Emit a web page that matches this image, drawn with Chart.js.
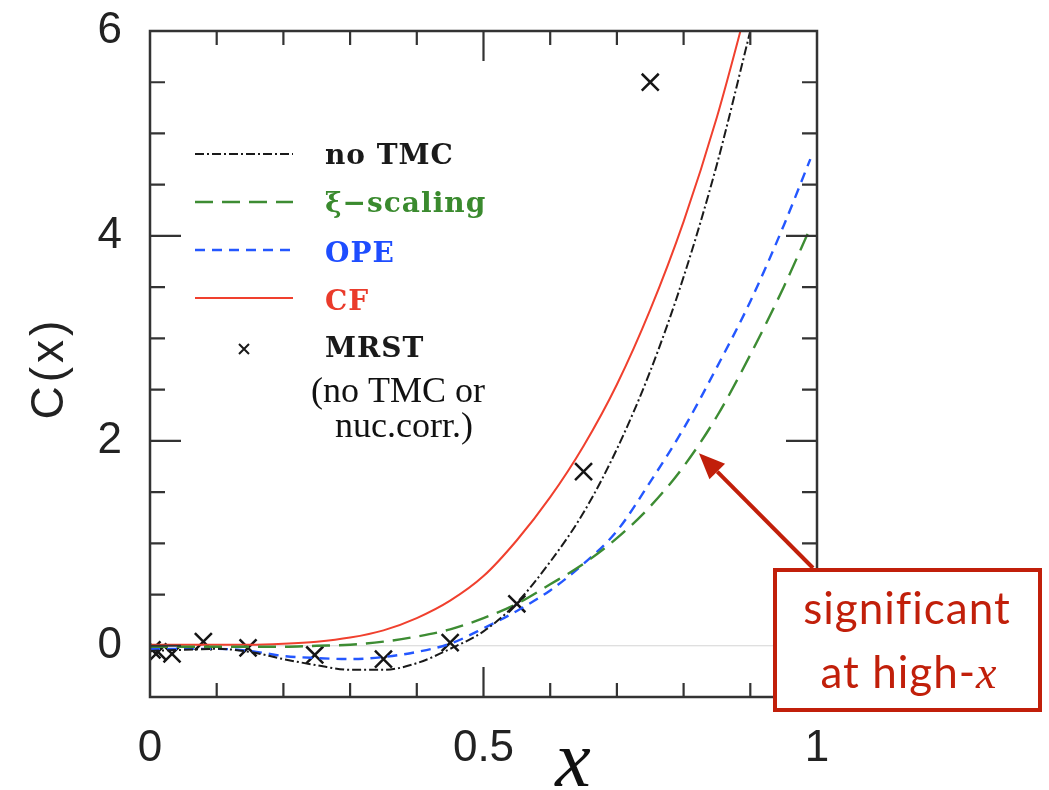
<!DOCTYPE html>
<html><head><meta charset="utf-8">
<script src="https://cdn.jsdelivr.net/npm/chart.js@4.4.1/dist/chart.umd.min.js"></script>
<style>html,body{margin:0;padding:0;background:#fff;} canvas{display:block;}</style>
</head><body>
<canvas id="c" width="1049" height="790" style="width:1049px;height:790px"></canvas>
<script>
// ---- data ----
const xValues   = [0, 0.05, 0.1, 0.15, 0.2, 0.25, 0.3, 0.35, 0.4, 0.45, 0.5, 0.55, 0.6, 0.65, 0.7, 0.75, 0.8, 0.85, 0.9, 0.95, 0.99];
const noTMC     = [-0.05, -0.04, -0.03, -0.06, -0.13, -0.19, -0.235, -0.235, -0.17, -0.03, 0.14, 0.42, 0.82, 1.3, 1.92, 2.68, 3.6, 4.7, 6.0, null, null];
const xiScaling = [-0.01, -0.01, -0.01, -0.01, -0.01, 0.0, 0.01, 0.04, 0.09, 0.16, 0.27, 0.41, 0.6, 0.8, 1.05, 1.36, 1.75, 2.24, 2.84, 3.5, 4.08];
const ope       = [-0.03, -0.03, -0.03, -0.05, -0.1, -0.12, -0.13, -0.11, -0.06, 0.02, 0.17, 0.34, 0.54, 0.8, 1.12, 1.6, 2.12, 2.72, 3.36, 4.1, 4.75];
const cf        = [0.01, 0.01, 0.01, 0.01, 0.02, 0.04, 0.08, 0.15, 0.27, 0.44, 0.68, 1.03, 1.45, 1.95, 2.55, 3.28, 4.14, 5.16, 6.36, null, null];
const mrstX     = [0.003, 0.012, 0.033, 0.08, 0.147, 0.247, 0.35, 0.45, 0.55, 0.65, 0.75];
const mrstY     = [-0.04, -0.06, -0.08, 0.04, -0.02, -0.09, -0.13, 0.03, 0.41, 1.70, 5.50];
const xTicks = [0, 0.5, 1];
const xTickLabels = ['0', '0.5', '1'];
const yTicks = [0, 2, 4, 6];
const yTickLabels = ['0', '2', '4', '6'];
const legendLabels = ['no TMC', '\u03BE\u2212scaling', 'OPE', 'CF', 'MRST'];
const noteLines = ['(no TMC or', 'nuc.corr.)'];
const annotation = ['significant', 'at high-', 'x'];
const arrowTarget = [0.823, 1.88];

const COL = {black:'#1a1a1a', green:'#3d8c33', blue:'#2457ff', red:'#f0402e', dark:'#c11f0a'};

const pts = arr => xValues.map((x,i)=>({x, y: arr[i]}));

const overlay = {
  id: 'overlay',
  beforeDatasetsDraw(chart) {
    const {ctx, chartArea:a, scales:{x, y}} = chart;
    ctx.save();
    ctx.strokeStyle = '#d4d4d4'; ctx.lineWidth = 1.2;
    const y0 = y.getPixelForValue(0);
    ctx.beginPath(); ctx.moveTo(a.left, y0); ctx.lineTo(a.right, y0); ctx.stroke();
    ctx.restore();
  },
  afterDatasetsDraw(chart) {
    const {ctx, chartArea:a, scales:{x, y}} = chart;
    ctx.save();
    // frame
    ctx.strokeStyle = '#333'; ctx.lineWidth = 2.5;
    ctx.strokeRect(a.left, a.top, a.right - a.left, a.bottom - a.top);
    // ticks
    ctx.lineWidth = 2.2;
    ctx.beginPath();
    for (let i = 1; i < 10; i++) {
      const v = i / 10, px = x.getPixelForValue(v), L = (i === 5) ? 30 : 14;
      ctx.moveTo(px, a.bottom); ctx.lineTo(px, a.bottom - L);
      ctx.moveTo(px, a.top); ctx.lineTo(px, a.top + L);
    }
    for (let i = 0; i < 13; i++) {
      const v = -0.5 + i * 0.5;
      if (v <= -0.5 || v >= 6) continue;
      const py = y.getPixelForValue(v), L = (v % 2 === 0) ? 31 : 15;
      ctx.moveTo(a.left, py); ctx.lineTo(a.left + L, py);
      ctx.moveTo(a.right, py); ctx.lineTo(a.right - L, py);
    }
    ctx.stroke();

    // legend
    const rows = [154, 202, 250, 298];
    const styles = [
      {c: COL.black, d: [9, 3, 2, 3], w: 2},
      {c: COL.green, d: [18, 9], w: 2.4},
      {c: COL.blue, d: [10, 7], w: 2.4},
      {c: COL.red, d: [], w: 2}
    ];
    const tcol = ['#1a1a1a', '#3a8a2e', '#1e4dff', '#ea3b2b', '#1a1a1a'];
    styles.forEach((s, i) => {
      ctx.strokeStyle = s.c; ctx.lineWidth = s.w; ctx.setLineDash(s.d);
      ctx.beginPath(); ctx.moveTo(195, rows[i]); ctx.lineTo(293, rows[i]); ctx.stroke();
    });
    ctx.setLineDash([]);
    // MRST legend cross
    ctx.strokeStyle = '#1a1a1a'; ctx.lineWidth = 2;
    ctx.beginPath();
    ctx.moveTo(239, 344); ctx.lineTo(249, 354); ctx.moveTo(249, 344); ctx.lineTo(239, 354);
    ctx.stroke();
    ctx.font = 'bold 28px "DejaVu Serif"';
    ctx.textBaseline = 'middle'; ctx.textAlign = 'left';
    ctx.letterSpacing = '1px';
    const trow = [157, 205, 255, 303, 350];
    legendLabels.forEach((t, i) => { ctx.fillStyle = tcol[i]; ctx.fillText(t, 325, trow[i]); });
    ctx.letterSpacing = '0px';

    // note
    ctx.fillStyle = '#111'; ctx.font = '36px "Liberation Serif"'; ctx.textAlign = 'center';
    ctx.fillText(noteLines[0], 398, 393);
    ctx.fillText(noteLines[1], 404, 428);

    // axis titles
    ctx.save();
    ctx.translate(50, 370); ctx.rotate(-Math.PI / 2);
    ctx.font = '46px "Liberation Sans"'; ctx.fillStyle = '#222';
    ctx.letterSpacing = '4px';
    ctx.textAlign = 'center'; ctx.textBaseline = 'middle';
    ctx.fillText('C(x)', 2, 0);
    ctx.letterSpacing = '0px';
    ctx.restore();
    ctx.font = 'italic 80px "Liberation Serif"'; ctx.fillStyle = '#111';
    ctx.textAlign = 'center'; ctx.textBaseline = 'alphabetic';
    ctx.fillText('x', 573, 786);

    // annotation arrow
    const tx = x.getPixelForValue(arrowTarget[0]), ty = y.getPixelForValue(arrowTarget[1]);
    const sx = 813, sy = 568;
    const ang = Math.atan2(ty - sy, tx - sx);
    const hl = 26, hw = 11;
    const bx = tx - hl * Math.cos(ang), by = ty - hl * Math.sin(ang);
    ctx.strokeStyle = COL.dark; ctx.fillStyle = COL.dark; ctx.lineWidth = 4;
    ctx.beginPath(); ctx.moveTo(sx, sy); ctx.lineTo(bx, by); ctx.stroke();
    ctx.beginPath();
    ctx.moveTo(tx, ty);
    ctx.lineTo(bx + hw * Math.sin(ang), by - hw * Math.cos(ang));
    ctx.lineTo(bx - hw * Math.sin(ang), by + hw * Math.cos(ang));
    ctx.closePath(); ctx.fill();
    // box
    ctx.fillStyle = '#fff';
    ctx.fillRect(773, 568, 269, 144);
    ctx.lineWidth = 4; ctx.strokeRect(775, 570, 265, 140);
    ctx.fillStyle = COL.dark; ctx.textBaseline = 'alphabetic';
    ctx.letterSpacing = '1px';
    ctx.font = '44px Lato'; ctx.textAlign = 'center';
    ctx.fillText(annotation[0], 907, 624);
    ctx.textAlign = 'left';
    const w1 = ctx.measureText(annotation[1]).width;
    ctx.font = 'italic 46px "Liberation Serif"';
    const w2 = ctx.measureText(annotation[2]).width;
    const start = 909 - (w1 + w2) / 2;
    ctx.font = '44px Lato'; ctx.fillText(annotation[1], start, 688);
    ctx.font = 'italic 46px "Liberation Serif"'; ctx.fillText(annotation[2], start + w1, 688);
    ctx.letterSpacing = '0px';
    ctx.restore();
  }
};

new Chart(document.getElementById('c'), {
  type: 'line',
  data: {
    datasets: [
      {label: 'no TMC', data: pts(noTMC), borderColor: COL.black, borderWidth: 2, borderDash: [9, 3, 2, 3], pointRadius: 0, cubicInterpolationMode: 'monotone'},
      {label: 'xi-scaling', data: pts(xiScaling), borderColor: COL.green, borderWidth: 2.4, borderDash: [18, 9], pointRadius: 0, cubicInterpolationMode: 'monotone'},
      {label: 'OPE', data: pts(ope), borderColor: COL.blue, borderWidth: 2.4, borderDash: [10, 7], pointRadius: 0, cubicInterpolationMode: 'monotone'},
      {label: 'CF', data: pts(cf), borderColor: COL.red, borderWidth: 2, pointRadius: 0, cubicInterpolationMode: 'monotone'},
      {label: 'MRST', data: mrstX.map((x, i) => ({x, y: mrstY[i]})), showLine: false, pointStyle: 'crossRot', pointRadius: 12, pointBorderWidth: 2.5, borderColor: '#151515', backgroundColor: '#151515'}
    ]
  },
  options: {
    responsive: false, animation: false, devicePixelRatio: 1,
    layout: {padding: {left: 0, top: 31, right: 232, bottom: 0}},
    plugins: {legend: {display: false}, tooltip: {enabled: false}},
    scales: {
      x: {
        type: 'linear', min: 0, max: 1,
        grid: {display: false, drawTicks: false}, border: {display: false},
        afterBuildTicks: s => { s.ticks = xTicks.map(v => ({value: v})); },
        afterFit: s => { s.height = 93; s.paddingLeft = 0; s.paddingRight = 0; },
        ticks: {padding: 25, color: '#222', font: {family: 'Liberation Sans', size: 44},
                callback: (v, i) => xTickLabels[i], maxRotation: 0}
      },
      y: {
        type: 'linear', min: -0.5, max: 6,
        grid: {display: false, drawTicks: false}, border: {display: false},
        afterBuildTicks: s => { s.ticks = yTicks.map(v => ({value: v})); },
        afterFit: s => { s.width = 150; s.paddingTop = 0; s.paddingBottom = 0; },
        ticks: {padding: 28, color: '#222', font: {family: 'Liberation Sans', size: 44},
                callback: (v, i) => yTickLabels[i]}
      }
    }
  },
  plugins: [overlay]
});
</script>
</body></html>
